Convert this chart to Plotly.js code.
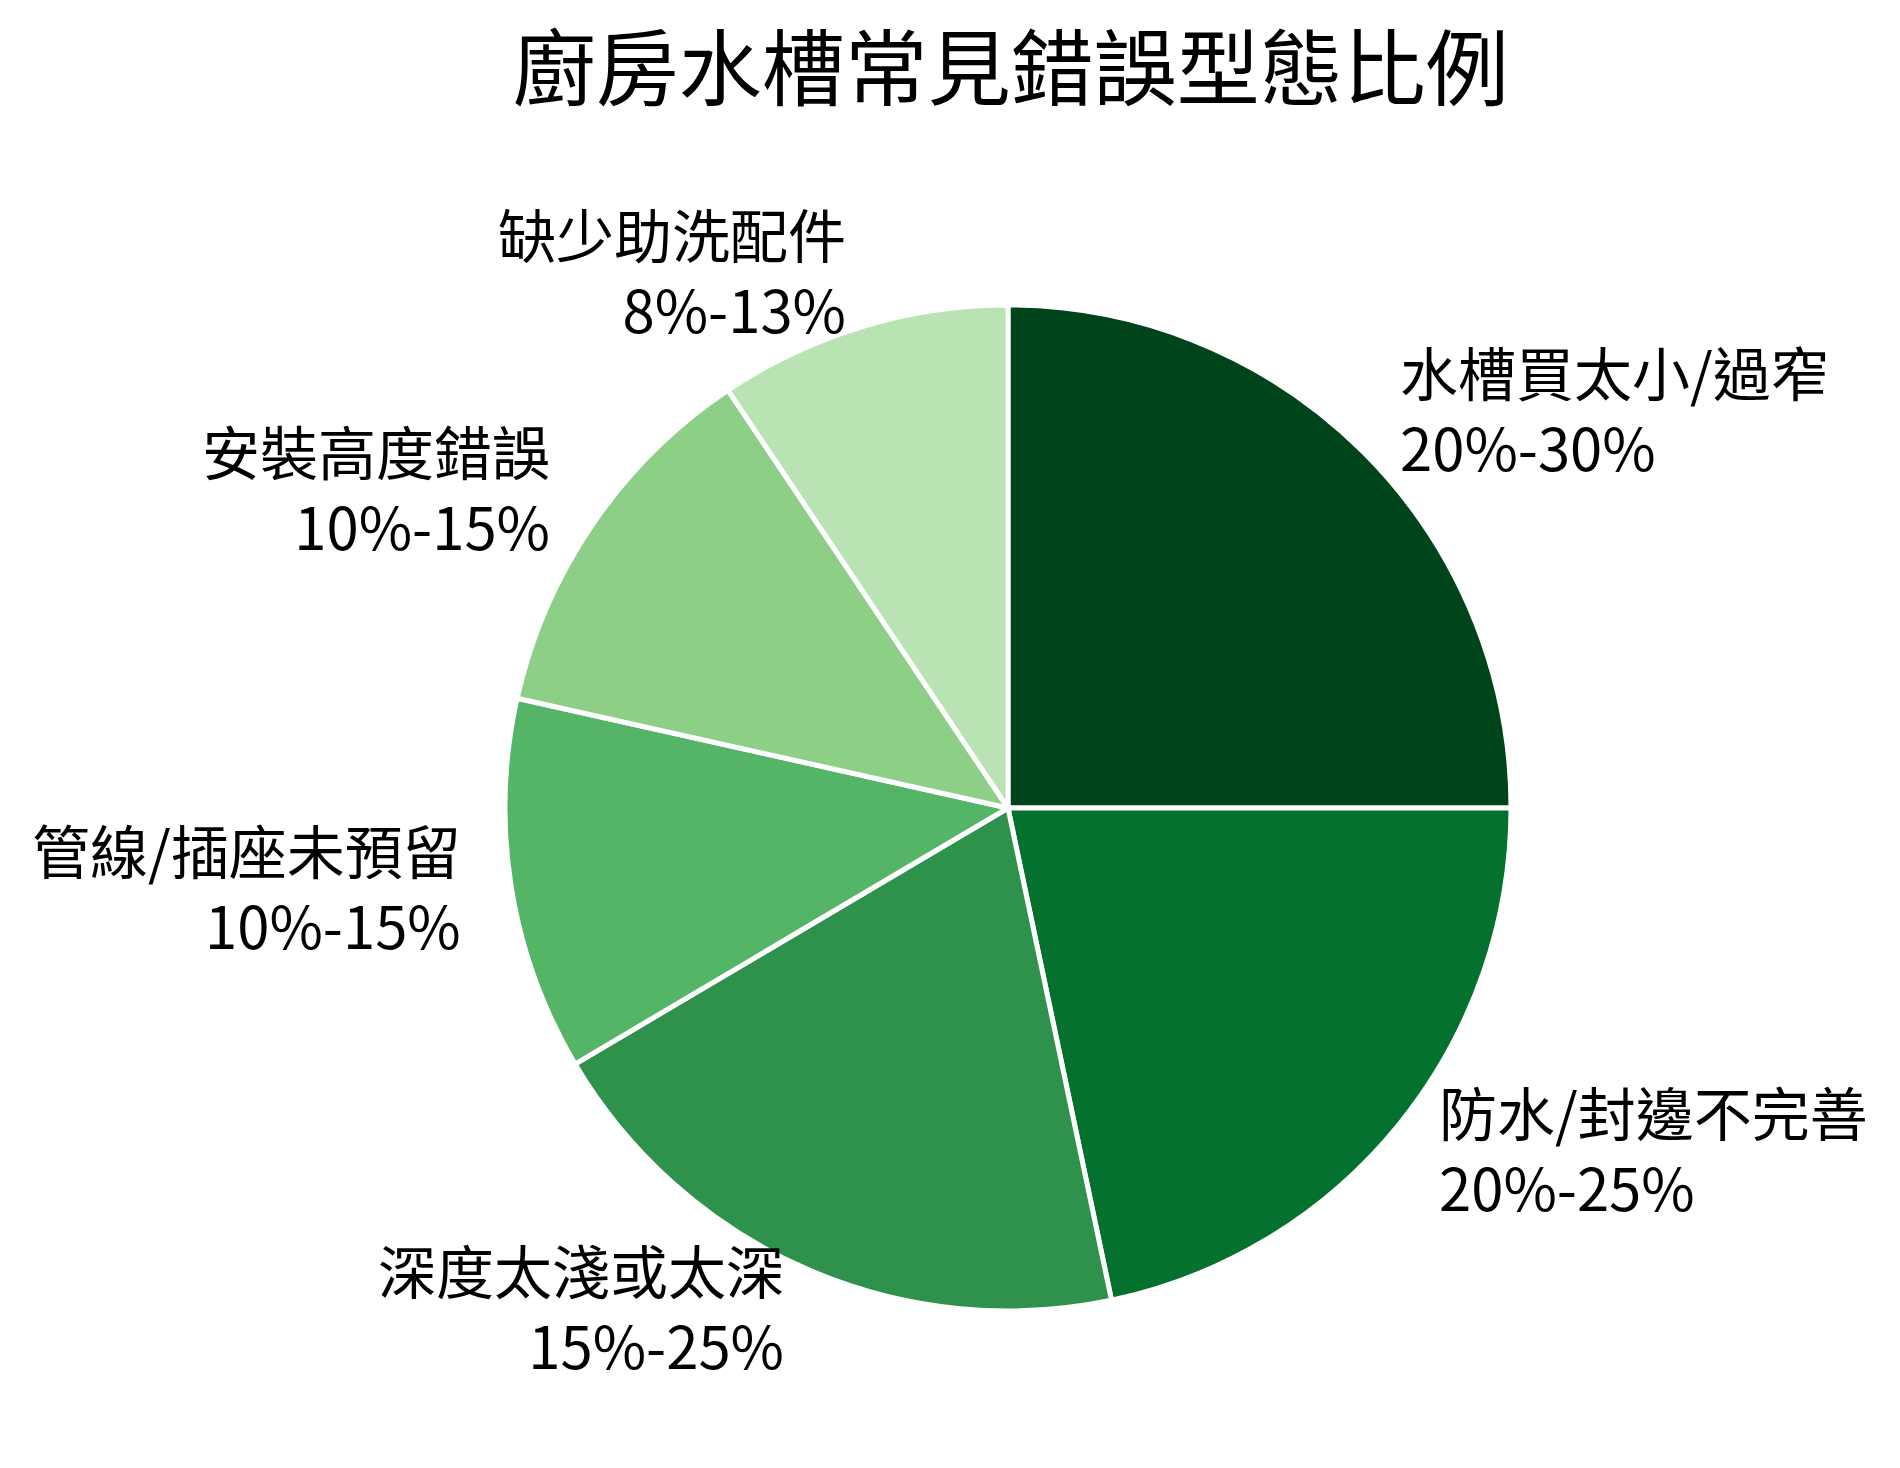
<!DOCTYPE html>
<html>
<head>
<meta charset="utf-8">
<script src="https://cdn.plot.ly/plotly-3.0.1.min.js"></script>
<style>
  html, body { margin: 0; padding: 0; background: #fff; }
  #chart { width: 1900px; height: 1468px; }
</style>
</head>
<body>
<div id="chart"></div>
<script>
"use strict"
// 各類錯誤型態 (扇形大小讀自原圖)
let categories = ["水槽買太小/過窄", "防水/封邊不完善", "深度太淺或太深", "管線/插座未預留", "安裝高度錯誤", "缺少助洗配件"];
let shares = [25, 21.7, 19.8, 12, 12.1, 9.4];
let ranges = ["20%-30%", "20%-25%", "15%-25%", "10%-15%", "10%-15%", "8%-13%"];
let colors = ["#00441b", "#05712f", "#2e924c", "#55b567", "#8ecf88", "#b9e3b3"];

let W = 1900, H = 1468;
let margin = { l: 200, r: 84, t: 305, b: 157 };
let fontFamily = '"Noto Sans CJK TC", "Noto Sans CJK SC", "Noto Sans", sans-serif';

let plotW = W - margin.l - margin.r, plotH = H - margin.t - margin.b;
let R = Math.min(plotW, plotH) / 2;

// 標籤放在扇形中線方向, 距圓心 1.1 倍半徑
let total = shares.reduce((a, b) => a + b, 0);
let annotations = [];
let cum = 0;
for (let i = 0; i < shares.length; i++) {
    let mid = (cum + shares[i] / 2) / total * 2 * Math.PI;
    cum += shares[i];
    let dx = Math.sin(mid) * R * 1.1;
    let dy = Math.cos(mid) * R * 1.1;
    let right = dx >= 0;
    annotations.push({
        xref: "paper", yref: "paper",
        x: 0.5 + dx / plotW,
        y: 0.5 + dy / plotH,
        yshift: 8,
        text: categories[i] + "<br>" + ranges[i],
        showarrow: false,
        xanchor: right ? "left" : "right",
        yanchor: "middle",
        align: right ? "left" : "right",
        borderpad: 0,
        font: { family: fontFamily, size: 58, color: "#000" }
    });
}

let data = [{
    type: "pie",
    values: shares,
    labels: categories,
    sort: false,
    direction: "clockwise",
    rotation: 0,
    textinfo: "none",
    hoverinfo: "skip",
    showlegend: false,
    marker: { colors: colors, line: { color: "#ffffff", width: 5 } }
}];

let layout = {
    width: W,
    height: H,
    margin: margin,
    paper_bgcolor: "#ffffff",
    title: {
        text: "廚房水槽常見錯誤型態比例",
        font: { family: fontFamily, size: 83, color: "#000" },
        xref: "container", x: 0.532, xanchor: "center",
        yref: "container", y: 1 - 70 / H, yanchor: "middle"
    },
    annotations: annotations
};

Plotly.newPlot("chart", data, layout, { displayModeBar: false, staticPlot: true });
</script>
</body>
</html>
